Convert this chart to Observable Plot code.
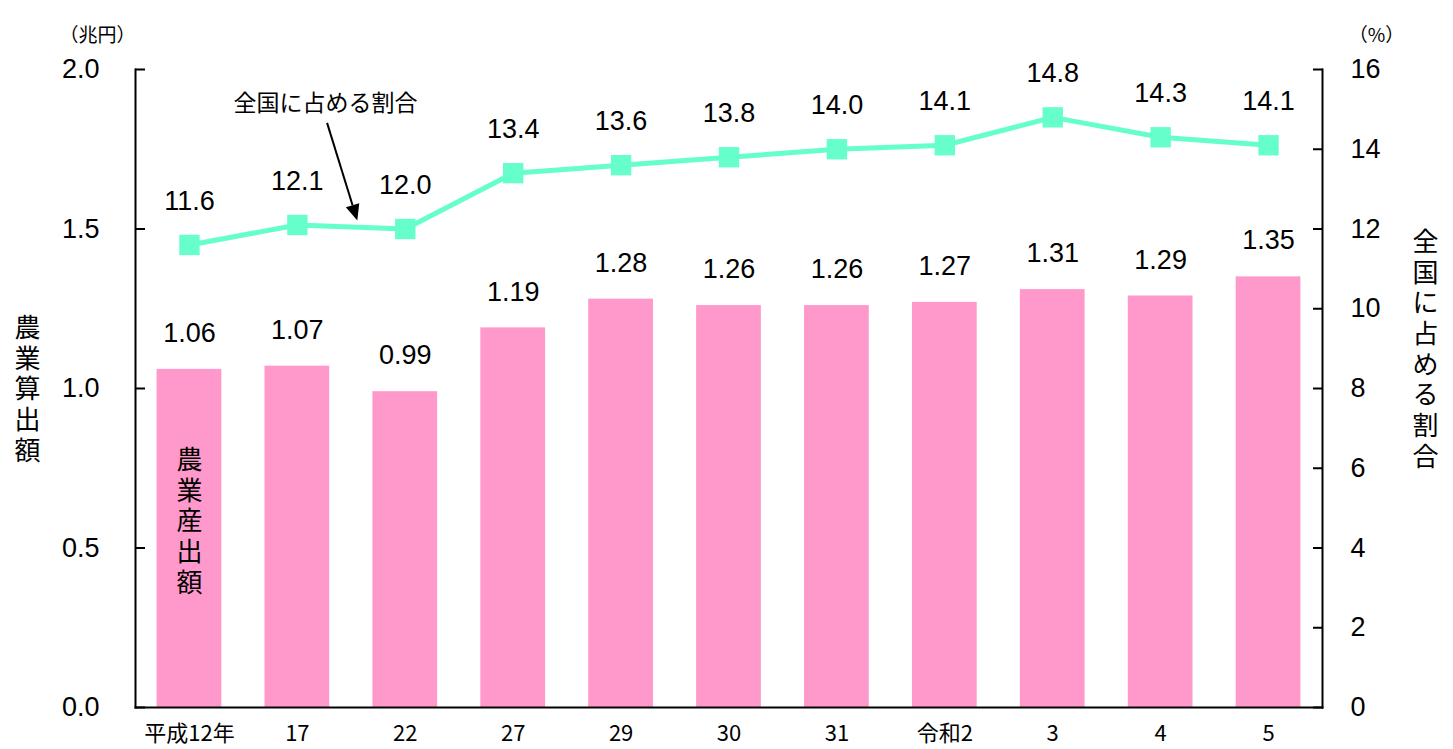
<!DOCTYPE html>
<html>
<head>
<meta charset="utf-8">
<script src="https://cdn.jsdelivr.net/npm/d3@7"></script>
<script src="https://cdn.jsdelivr.net/npm/@observablehq/plot@0.6"></script>
<style>
  html, body { margin: 0; padding: 0; background: #fff; }
</style>
</head>
<body>
<div id="chart"></div>
<script>
// ---- data ----
const years = ["平成12年", "17", "22", "27", "29", "30", "31", "令和2", "3", "4", "5"];
const output = [1.06, 1.07, 0.99, 1.19, 1.28, 1.26, 1.26, 1.27, 1.31, 1.29, 1.35]; // 兆円
const share = [11.6, 12.1, 12.0, 13.4, 13.6, 13.8, 14.0, 14.1, 14.8, 14.3, 14.1]; // %
const leftTicks = [0, 0.5, 1.0, 1.5, 2.0];
const rightTicks = [0, 2, 4, 6, 8, 10, 12, 14, 16];
const leftUnit = "（兆円）";
const rightUnit = "（%）";
const leftTitle = "農業算出額";
const rightTitle = "全国に占める割合";
const barLabel = "農業産出額";
const lineLabel = "全国に占める割合";
// annotation anchors in data units (category + fraction of a band step, percent)
const labelAnchor = {x: "17", t: 0.26, pct: 15.15};
const arrowFrom = {x: "17", t: 0.28, pct: 14.65};
const arrowTo = {x: "17", t: 0.56, pct: 12.2};
const barLabelAnchor = {x: "平成12年", y: 0.586};

const ratio = 16 / 2; // right axis max / left axis max
const data = years.map((year, i) => ({year, output: output[i], share: share[i]}));
const vertical = s => Array.from(s).join("\n");

const font = "'Liberation Sans', Arial, 'Noto Sans CJK JP', sans-serif";
const cjk = "'Noto Sans CJK JP', sans-serif";
const pink = "#FF99CC";
const mint = "#66FFCC";

function build(step) {
  return Plot.plot({
    width: 1453,
    height: 749,
    marginLeft: 135,
    marginRight: 131,
    marginTop: 69,
    marginBottom: 42,
    style: {fontFamily: font, fontSize: "27px", color: "#000", background: "#fff"},
    x: {domain: years, paddingInner: 0.4, paddingOuter: 0.2, round: false, label: null},
    y: {domain: [0, 2], label: null},
    marks: [
      Plot.barY(data, {x: "year", y: "output", fill: pink}),
      Plot.axisX({tickSize: 0, tickPadding: 18, fontSize: 22, fontFamily: cjk, label: null}),
      Plot.axisY(leftTicks, {anchor: "left", tickSize: -10, tickPadding: 46, strokeWidth: 2,
        tickFormat: d => d.toFixed(1), label: null}),
      Plot.axisY(rightTicks.map(d => d / ratio), {anchor: "right", tickSize: -10, tickPadding: 38, strokeWidth: 2,
        tickFormat: d => String(Math.round(d * ratio)), label: null}),
      Plot.frame({anchor: "left", strokeWidth: 2}),
      Plot.frame({anchor: "right", strokeWidth: 2}),
      Plot.frame({anchor: "bottom", strokeWidth: 2}),
      Plot.line(data, {x: "year", y: d => d.share / ratio, stroke: mint, strokeWidth: 5}),
      Plot.dot(data, {x: "year", y: d => d.share / ratio, symbol: "square", r: 11.5, fill: mint}),
      Plot.text(data, {x: "year", y: "output", text: d => d.output.toFixed(2), dy: -36}),
      Plot.text(data, {x: "year", y: d => d.share / ratio, text: d => d.share.toFixed(1), dy: -44}),
      Plot.text([barLabelAnchor], {x: "x", y: "y", text: () => vertical(barLabel), fontSize: 26, lineHeight: 1.18,
        fontFamily: cjk}),
      Plot.text([leftTitle], {frameAnchor: "left", textAnchor: "middle", dx: -108, text: d => vertical(d),
        fontSize: 26, lineHeight: 1.18, fontFamily: cjk}),
      Plot.text([rightTitle], {frameAnchor: "right", textAnchor: "middle", dx: 103, dy: -40, text: d => vertical(d),
        fontSize: 26, lineHeight: 1.18, fontFamily: cjk}),
      Plot.text([leftUnit], {frameAnchor: "top-left", textAnchor: "middle", dx: -38, dy: -41, text: d => d,
        fontSize: 19, fontFamily: cjk}),
      Plot.text([rightUnit], {frameAnchor: "top-right", textAnchor: "middle", dx: 54, dy: -41, text: d => d,
        fontSize: 19, fontFamily: cjk}),
      Plot.text([labelAnchor], {x: "x", y: d => d.pct / ratio, dx: labelAnchor.t * step, text: () => lineLabel,
        fontSize: 23, fontFamily: cjk})
    ]
  });
}

// first pass to learn the band step, then the real chart
const probe = build(0);
const step = probe.scale("x").step;
const plot = build(step);
document.getElementById("chart").append(plot);

const xs = plot.scale("x");
const ys = plot.scale("y");
const px = a => xs.apply(a.x) + xs.bandwidth / 2 + a.t * xs.step;
const py = a => ys.apply(a.pct / ratio);

const svg = d3.select(plot);
const x1 = px(arrowFrom), y1 = py(arrowFrom), x2 = px(arrowTo), y2 = py(arrowTo);
const ang = Math.atan2(y2 - y1, x2 - x1);
const hl = 16, hw = 7;
const bx = x2 - hl * Math.cos(ang), by = y2 - hl * Math.sin(ang);
svg.append("line")
  .attr("x1", x1).attr("y1", y1).attr("x2", bx).attr("y2", by)
  .attr("stroke", "#000").attr("stroke-width", 2);
svg.append("polygon")
  .attr("points", [
    [x2, y2],
    [bx + hw * Math.sin(ang), by - hw * Math.cos(ang)],
    [bx - hw * Math.sin(ang), by + hw * Math.cos(ang)]
  ].map(p => p.join(",")).join(" "))
  .attr("fill", "#000");
</script>
</body>
</html>
